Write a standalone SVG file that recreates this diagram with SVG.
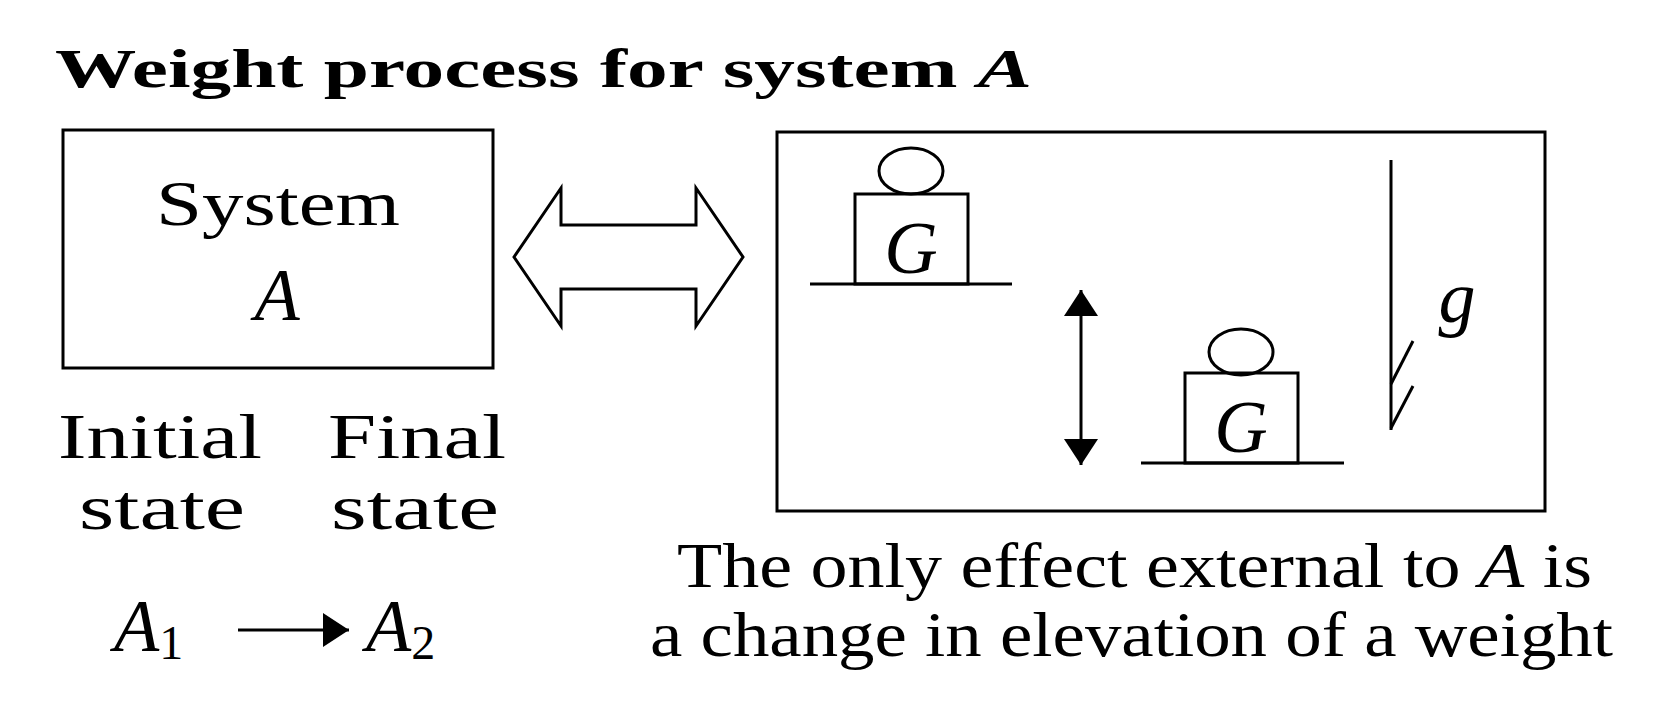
<svg xmlns="http://www.w3.org/2000/svg" width="1653" height="713" viewBox="0 0 1653 713">
<style>
text{font-family:"Liberation Serif","DejaVu Serif",serif;fill:#000}
.t{font-size:64px}
.i{font-style:italic}
.b{font-size:74px}
.s{fill:none;stroke:#000;stroke-width:3}
</style>
<defs>
<marker id="ah2" viewBox="0 0 10 10" markerWidth="26" markerHeight="34" refX="10" refY="5" orient="auto-start-reverse" markerUnits="userSpaceOnUse" preserveAspectRatio="none"><path d="M0,0 L10,5 L0,10z"/></marker></defs>
<rect width="1653" height="713" fill="#fff"/>
<text x="55" y="87" font-size="54" font-weight="bold" textLength="977" lengthAdjust="spacingAndGlyphs">Weight process for system <tspan class="i">A</tspan></text>
<g id="systemA"><rect class="s" x="63" y="130" width="430" height="238"/>
<text class="t" x="156" y="225" textLength="244" lengthAdjust="spacingAndGlyphs">System</text>
<text class="i b" x="277" y="320" text-anchor="middle">A</text></g>
<g id="states">
<text class="t" x="58" y="458" textLength="204" lengthAdjust="spacingAndGlyphs">Initial</text><text class="t" x="328" y="458" textLength="178" lengthAdjust="spacingAndGlyphs">Final</text>
<text class="t" x="79" y="529" textLength="166" lengthAdjust="spacingAndGlyphs">state</text><text class="t" x="331" y="529" textLength="168" lengthAdjust="spacingAndGlyphs">state</text>
<text class="i b" x="114" y="651">A<tspan font-style="normal" font-size="48" dy="8">1</tspan></text>
<text class="i b" x="366" y="651">A<tspan font-style="normal" font-size="48" dy="8">2</tspan></text></g>
<g id="connectors">
<line class="s" x1="238" y1="630" x2="349" y2="630" marker-end="url(#ah2)"/>
<polygon class="s" points="514,257 561,188 561,225 696,225 696,188 743,257 696,326 696,289 561,289 561,326"/>
<line class="s" x1="1081" y1="290" x2="1081" y2="465" marker-start="url(#ah2)" marker-end="url(#ah2)"/>
</g>
<g id="scene"><rect class="s" x="777" y="132" width="768" height="379"/>
<line class="s" x1="810" y1="284" x2="1012" y2="284"/><rect class="s" x="855" y="194" width="113" height="90"/>
<ellipse class="s" cx="911" cy="171" rx="32" ry="23"/><text class="i b" x="911" y="273" text-anchor="middle">G</text>
<line class="s" x1="1141" y1="463" x2="1344" y2="463"/><rect class="s" x="1185" y="373" width="113" height="90"/>
<ellipse class="s" cx="1241" cy="352" rx="32" ry="23"/><text class="i b" x="1241" y="452" text-anchor="middle">G</text>
<line class="s" x1="1391" y1="160" x2="1391" y2="430"/>
<line class="s" x1="1391" y1="384" x2="1413" y2="341"/><line class="s" x1="1391" y1="428" x2="1413" y2="386"/>
<text class="i b" x="1457" y="322" text-anchor="middle">g</text></g>
<g id="caption">
<text class="t" x="677" y="587" textLength="915" lengthAdjust="spacingAndGlyphs">The only effect external to <tspan class="i">A</tspan> is</text>
<text class="t" x="650" y="656" textLength="963" lengthAdjust="spacingAndGlyphs">a change in elevation of a weight</text></g>
</svg>
